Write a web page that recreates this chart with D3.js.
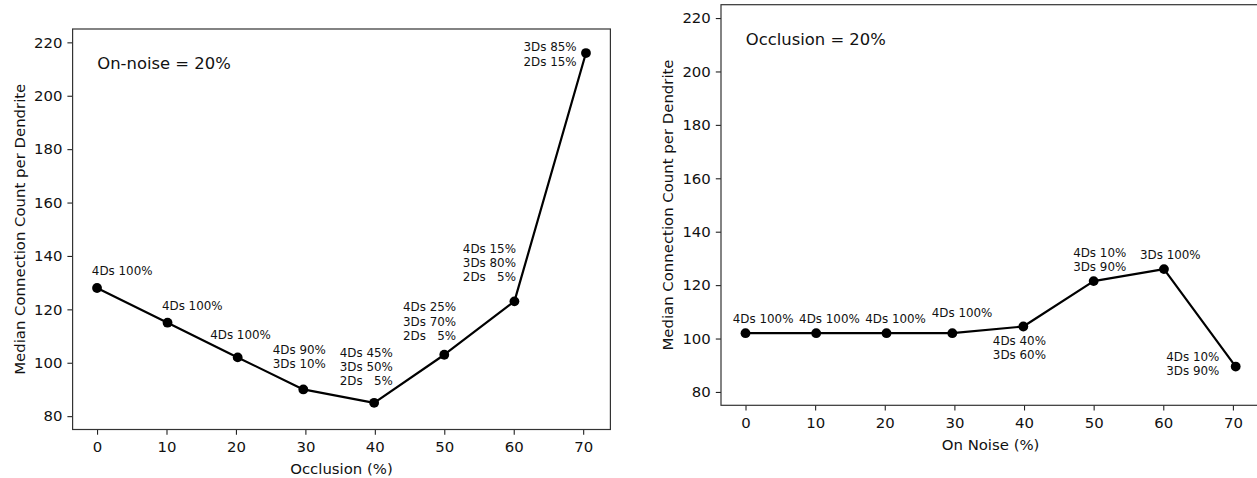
<!DOCTYPE html>
<html>
<head>
<meta charset="utf-8">
<script src="https://cdn.jsdelivr.net/npm/d3@7"></script>
<style>
  html, body { margin: 0; padding: 0; background: #fff; }
  svg { display: block; font-family: "DejaVu Sans", sans-serif; }
  text { fill: #111; }
</style>
</head>
<body>
<svg id="chart" width="1257" height="478"></svg>
<script>
// Sampled levels (%) along the horizontal axis of both panels
const levels = [0, 10.15, 20.25, 29.7, 39.9, 50, 60.1, 70.4];

// Median connection count per dendrite
const occlusionCounts = [128, 115, 102, 90, 85, 103, 123, 216];
const noiseCounts = [102, 102, 102, 102, 104.5, 121.5, 126, 89.5];

// Dendrite class composition shown next to each point
const occlusionMix = [
  ["4Ds 100%"],
  ["4Ds 100%"],
  ["4Ds 100%"],
  ["4Ds 90%", "3Ds 10%"],
  ["4Ds 45%", "3Ds 50%", "2Ds   5%"],
  ["4Ds 25%", "3Ds 70%", "2Ds   5%"],
  ["4Ds 15%", "3Ds 80%", "2Ds   5%"],
  ["3Ds 85%", "2Ds 15%"]
];
const noiseMix = [
  ["4Ds 100%"],
  ["4Ds 100%"],
  ["4Ds 100%"],
  ["4Ds 100%"],
  ["4Ds 40%", "3Ds 60%"],
  ["4Ds 10%", "3Ds 90%"],
  ["3Ds 100%"],
  ["4Ds 10%", "3Ds 90%"]
];

const xTicks = [0, 10, 20, 30, 40, 50, 60, 70];
const yTicks = [80, 100, 120, 140, 160, 180, 200, 220];

// Placement of each composition note: offset of the text block's left edge
// and of its first line's middle from the marker, in pixels
const occlusionNoteOffsets = [
  [-5.2, -17.6], [-5.6, -17], [-27.5, -23], [-30.6, -40],
  [-34.4, -50.3], [-41.3, -47.7], [-51.6, -52.7], [-62.5, -6]
];
const noiseNoteOffsets = [
  [-12.7, -14.7], [-17.1, -14.7], [-21.3, -14.7], [-20.6, -20],
  [-30.5, 14], [-20.5, -28.4], [-24, -14.7], [-69.5, -9.7]
];

const svg = d3.select("#chart");

const TICK_FONT = 14.9;
const NOTE_FONT = 11.9;
const TITLE_FONT = 16.4;

function drawPanel(opts) {
  const { left, right, top, bottom, counts, mix, offsets, title, xLabel } = opts;

  const x = d3.scaleLinear().domain([-3.52, 73.92]).range([left, right]);
  const y = d3.scaleLinear().domain([75, 225]).range([bottom, top]);

  const g = svg.append("g");

  // x axis
  const xAxis = g.append("g")
    .attr("transform", `translate(0,${bottom})`)
    .call(d3.axisBottom(x).tickValues(xTicks).tickFormat(d3.format("d"))
      .tickSize(5.2).tickPadding(6.5).tickSizeOuter(0));
  xAxis.select(".domain").remove();
  xAxis.selectAll("line").attr("stroke", "#222").attr("stroke-width", 1.1);
  xAxis.selectAll("text").attr("font-size", TICK_FONT).attr("fill", "#111")
    .attr("font-family", "DejaVu Sans");

  // y axis
  const yAxis = g.append("g")
    .attr("transform", `translate(${left},0)`)
    .call(d3.axisLeft(y).tickValues(yTicks).tickFormat(d3.format("d"))
      .tickSize(5.2).tickPadding(5).tickSizeOuter(0));
  yAxis.select(".domain").remove();
  yAxis.selectAll("line").attr("stroke", "#222").attr("stroke-width", 1.1);
  yAxis.selectAll("text").attr("font-size", TICK_FONT).attr("fill", "#111")
    .attr("font-family", "DejaVu Sans");

  // frame
  g.append("rect")
    .attr("x", left).attr("y", top)
    .attr("width", right - left).attr("height", bottom - top)
    .attr("fill", "none").attr("stroke", "#333").attr("stroke-width", 1.2);

  // axis titles
  g.append("text")
    .attr("x", (left + right) / 2).attr("y", bottom + 39)
    .attr("dy", "0.36em")
    .attr("text-anchor", "middle")
    .attr("font-size", TICK_FONT)
    .text(xLabel);

  g.append("text")
    .attr("transform", `translate(${left - 53},${(top + bottom) / 2}) rotate(-90)`)
    .attr("dy", "0.36em")
    .attr("text-anchor", "middle")
    .attr("font-size", TICK_FONT)
    .text("Median Connection Count per Dendrite");

  // condition note in the upper left corner
  g.append("text")
    .attr("x", left + (right - left) * 0.046)
    .attr("y", top + (bottom - top) * 0.1)
    .attr("font-size", TITLE_FONT)
    .text(title);

  const pts = levels.map((lv, i) => ({ lv, v: counts[i], mix: mix[i], off: offsets[i] }));

  // line + markers
  g.append("path")
    .datum(pts)
    .attr("fill", "none")
    .attr("stroke", "#000")
    .attr("stroke-width", 2.2)
    .attr("stroke-linejoin", "round")
    .attr("d", d3.line().x(d => x(d.lv)).y(d => y(d.v)));

  g.selectAll("circle.pt")
    .data(pts)
    .join("circle")
    .attr("class", "pt")
    .attr("cx", d => x(d.lv))
    .attr("cy", d => y(d.v))
    .attr("r", 4.9)
    .attr("fill", "#000");

  // composition notes
  const notes = g.selectAll("text.note")
    .data(pts)
    .join("text")
    .attr("class", "note")
    .attr("font-size", NOTE_FONT)
    .attr("xml:space", "preserve")
    .style("white-space", "pre");

  notes.each(function (d) {
    const t = d3.select(this);
    const x0 = x(d.lv) + d.off[0];
    const y0 = y(d.v) + d.off[1];
    d.mix.forEach((line, k) => {
      t.append("tspan")
        .attr("x", x0)
        .attr("y", y0 + k * 14.2)
        .attr("dy", "0.36em")
        .text(line);
    });
  });
}

drawPanel({
  left: 72.6, right: 610.4, top: 29, bottom: 429.5,
  counts: occlusionCounts, mix: occlusionMix, offsets: occlusionNoteOffsets,
  title: "On-noise = 20%", xLabel: "Occlusion (%)"
});

drawPanel({
  left: 721, right: 1260.2, top: 4.7, bottom: 405.3,
  counts: noiseCounts, mix: noiseMix, offsets: noiseNoteOffsets,
  title: "Occlusion = 20%", xLabel: "On Noise (%)"
});
</script>
</body>
</html>
